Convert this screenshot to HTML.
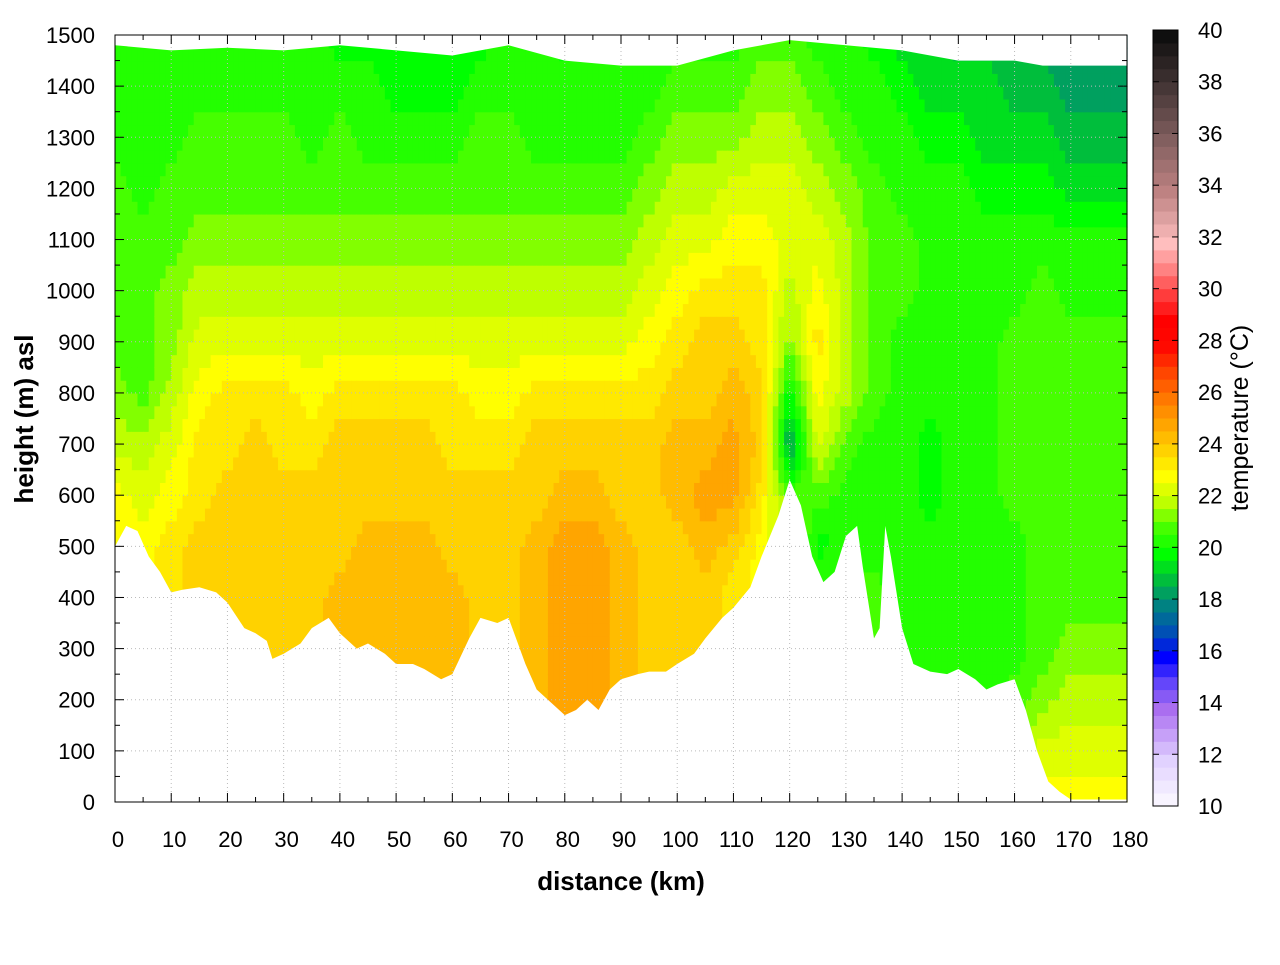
<!DOCTYPE html>
<html><head><meta charset="utf-8"><style>
body{margin:0;background:#fff;font-family:"Liberation Sans",sans-serif}
svg text{font-family:"Liberation Sans",sans-serif}
</style></head><body>
<svg id="chart" width="1280" height="960">
<g id="heat"></g>
<g id="mask"></g>
<g id="grid"></g>
<g id="axes"></g>
<g id="cbar"></g>
<text x="621" y="890" font-size="26" font-weight="bold" text-anchor="middle">distance (km)</text>
<text transform="translate(33,419) rotate(-90)" font-size="26" font-weight="bold" text-anchor="middle">height (m) asl</text>
<text transform="translate(1248,418) rotate(-90)" font-size="25" text-anchor="middle">temperature (°C)</text>
</svg>
<script>
const distCols=[0,5,10,15,20,25,30,35,40,45,50,55,60,65,70,75,80,85,90,95,100,105,110,115,120,125,130,135,140,145,150,155,160,165,170,175,180];
const heightRows=[0,100,200,300,400,500,600,700,800,900,1000,1100,1200,1300,1400,1500];
const tempByColumn=[
[23,23,23,23,23,23,23,22,21.5,21,21,21,21,20.5,20.5,20.5],
[23,23,23,23,23,23,22.5,22,21,21,21,21,20.5,20.5,20.5,20.5],
[23.5,23.5,23.5,23.5,23.5,23.5,23,22.5,22,21.5,21.5,21,21,20.5,20.5,20.5],
[24,24,24,24,24,24,23.5,23.5,23,22.5,22,21.5,21,21,20.5,20.5],
[24,24,24,24,24,24,24,23.5,23.5,22.5,22,21.5,21,21,20.5,20.5],
[24,24,24,24,24,24,24,24,23.5,22.5,22,21.5,21,21,20.5,20.5],
[24,24,24,24,24,24,24,23.5,23.5,22.5,22,21.5,21,21,20.5,20.5],
[24,24,24,24,24,24,24,23.5,23,22.5,22,21.5,21,20.5,20.5,20.5],
[24.5,24.5,24.5,24.5,24.5,24,24,24,23.5,22.5,22,21.5,21,21,20.5,20],
[24.5,24.5,24.5,24.5,24.5,24.5,24,24,23.5,22.5,22,21.5,21,20.5,20.5,20],
[24.5,24.5,24.5,24.5,24.5,24.5,24,24,23.5,22.5,22,21.5,21,20.5,20,20],
[24.5,24.5,24.5,24.5,24.5,24.5,24,24,23.5,22.5,22,21.5,21,20.5,20,20],
[24.5,24.5,24.5,24.5,24.5,24,24,23.5,23.5,22.5,22,21.5,21,20.5,20,20],
[24,24,24,24,24,24,24,23.5,23,22.5,22,21.5,21,21,20.5,20],
[24,24,24,24,24,24,24,23.5,23,22.5,22,21.5,21,21,20.5,20.5],
[24.5,24.5,24.5,24.5,24.5,24.5,24,24,23.5,22.5,22,21.5,21,20.5,20.5,20.5],
[25,25,25,25,25,25,24.5,24,23.5,22.5,22,21.5,21,20.5,20.5,20],
[25,25,25,25,25,25,24.5,24,23.5,22.5,22,21.5,21,20.5,20.5,20],
[24.5,24.5,24.5,24.5,24.5,24.5,24,24,23.5,22.5,22,21.5,21,20.5,20.5,20],
[24,24,24,24,24,24,24,24,23.5,23,22.5,22,21.5,21,20.5,20],
[24,24,24,24,24,24,24.5,24.5,24,23.5,23,22.5,22,21.5,21,20.5],
[24,24,24,24,24,24.5,25,24.5,24,24,23.5,22.5,22,21.5,21,20.5],
[23.5,23.5,23.5,23.5,23.5,24,25,25,24.5,24,23.5,23,22.5,21.5,21,20.5],
[23,23,23,23,23,23,23.5,24,24,23.5,23.5,23,22.5,22,21.5,21],
[22,22,22,22,22,22,21,18.5,20,21.5,22,22.5,22.5,22,21.5,21],
[21,21,21,21,21,20,21,22.5,23,23.5,23,22.5,22,21.5,21,20.5],
[21,21,21,21,21,20.5,20.5,21,22,22,22,22,21.5,21,20.5,20.5],
[21,21,21,21,21,20.5,20.5,20.5,21,21,21,21,21,20.5,20.5,20],
[21,21,20.5,20.5,20.5,20.5,20.5,20.5,20.5,20.5,21,21,20.5,20.5,20,19.5],
[21,20.5,20.5,20.5,20.5,20.5,20,20,20.5,20.5,20.5,20.5,20.5,20,19.5,19.5],
[21,20.5,20.5,20.5,20.5,20.5,20.5,20.5,20.5,20.5,20.5,20.5,20.5,20,19.5,19],
[21.5,21,20.5,20.5,20.5,20.5,20.5,20.5,20.5,20.5,20.5,20.5,20,19.5,19.5,19],
[22,21.5,21,20.5,20.5,20.5,21,21,21,21,20.5,20.5,20,19.5,19,19],
[23,22.5,21.5,21,21,21,21,21,21,21,21,20.5,20,19.5,19,18.5],
[23,22.5,22,21.5,21,21,21,21,21,21,20.5,20.5,19.5,19,18.5,18],
[23,22.5,22,21.5,21,21,21,21,21,21,20.5,20.5,19.5,19,18.5,18],
[23,22.5,22,21.5,21,21,21,21,21,21,20.5,20.5,19.5,19,18.5,18]];
const terrainDist=[0,2,4,6,8,10,12,15,18,20,23,25,27,28,30,33,35,38,40,43,45,48,50,53,55,58,60,63,65,68,70,73,75,78,80,82,84,86,88,90,93,95,98,100,103,105,108,110,113,115,118,120,122,124,126,128,130,132,133,135,136,137,138,140,142,145,148,150,153,155,157,160,162,164,166,168,170,175,180];
const terrainHeight=[500,540,530,480,450,410,415,420,410,390,340,330,315,280,290,310,340,360,330,300,310,290,270,270,260,240,250,320,360,350,360,270,220,190,170,180,200,180,220,240,250,255,255,270,290,320,360,380,420,480,560,630,580,480,430,450,520,540,460,320,340,540,480,340,270,255,250,260,240,220,230,240,180,100,40,20,5,5,5];
const topDist=[0,10,20,30,40,50,60,70,80,90,100,110,120,130,140,150,160,165,167,180];
const topHeight=[1480,1470,1475,1470,1480,1470,1460,1480,1450,1440,1440,1470,1490,1480,1470,1450,1450,1440,1440,1440];
const cbTicks=[10,12,14,16,18,20,22,24,26,28,30,32,34,36,38,40];
const NS="http://www.w3.org/2000/svg";
const X0=115,X1=1127,Y0=802,Y1=35;
const xs=d=>X0+(X1-X0)*d/180, ys=h=>Y0-(Y0-Y1)*h/1500;
const stops=[[10,[255,255,255]],[12,[225,210,255]],[14,[170,110,240]],[15,[100,70,250]],[16,[0,0,255]],[17,[0,80,180]],[18,[0,130,130]],[19,[0,190,60]],[20,[0,255,0]],[21,[70,255,0]],[22,[190,255,0]],[23,[255,255,0]],[24,[255,210,0]],[25,[255,165,0]],[26,[255,120,0]],[27,[255,70,0]],[28,[255,10,0]],[29,[255,0,0]],[30,[255,60,60]],[31,[255,130,130]],[32,[255,190,190]],[33,[220,160,160]],[34,[190,130,130]],[36,[130,95,95]],[38,[70,55,55]],[40,[15,15,15]]];
function col(t){t=Math.round(t*2)/2;t=Math.max(10,Math.min(40,t));for(let i=0;i<stops.length-1;i++){const[a,ca]=stops[i],[b,cb]=stops[i+1];if(t<=b){const f=(t-a)/(b-a);return`rgb(${ca.map((c,k)=>Math.round(c+(cb[k]-c)*f)).join(',')})`}}return'rgb(15,15,15)'}
function el(t,a,p){const e=document.createElementNS(NS,t);for(const k in a)e.setAttribute(k,a[k]);p.appendChild(e);return e}
function sample(d,h){let i=Math.min(Math.floor(d/5),distCols.length-2),j=Math.min(Math.floor(h/100),heightRows.length-2);const fx=(d-distCols[i])/5,fy=(h-heightRows[j])/100;const a=tempByColumn[i][j],b=tempByColumn[i+1][j],c=tempByColumn[i][j+1],e=tempByColumn[i+1][j+1];return a*(1-fx)*(1-fy)+b*fx*(1-fy)+c*(1-fx)*fy+e*fx*fy}
const heat=document.getElementById('heat');
const dstep=1,hstep=25;
for(let d=0;d<180;d+=dstep)for(let h=0;h<1500;h+=hstep){
 const r=el('rect',{x:xs(d).toFixed(2),y:ys(h+hstep).toFixed(2),width:(xs(d+dstep)-xs(d)+0.6).toFixed(2),height:(ys(h)-ys(h+hstep)+0.6).toFixed(2),fill:col(sample(d+dstep/2,h+hstep/2))},heat);
 
 
}
const mask=document.getElementById('mask');
let p=`M${xs(0)},${ys(0)+1} `+terrainDist.map((d,i)=>`L${xs(d)},${ys(terrainHeight[i])}`).join(' ')+` L${xs(180)},${ys(0)+1}Z`;
const g1=el('path',{d:p,fill:'#fff'},mask);


let p2=`M${xs(0)},${ys(1500)-1} `+topDist.map((d,i)=>`L${xs(d)},${ys(topHeight[i])}`).join(' ')+` L${xs(180)},${ys(1500)-1}Z`;
const g2=el('path',{d:p2,fill:'#fff'},mask);


const grid=document.getElementById('grid'),axes=document.getElementById('axes');
for(let d=0;d<=180;d+=5){const x=xs(d);const major=d%10==0;
 el('line',{x1:x,y1:Y0,x2:x,y2:Y0-(major?9:5),stroke:'#000'},axes);el('line',{x1:x,y1:Y1,x2:x,y2:Y1+(major?9:5),stroke:'#000'},axes);
 if(major){if(d>0&&d<180)el('line',{x1:x,y1:Y1,x2:x,y2:Y0,stroke:'#bbb','stroke-dasharray':'1,3'},grid);
 const t=el('text',{x:x+3,y:847,'font-size':22,'text-anchor':'middle'},axes);t.textContent=d;
 }}
for(let h=0;h<=1500;h+=50){const y=ys(h);const major=h%100==0;
 el('line',{x1:X0,y1:y,x2:X0+(major?9:5),y2:y,stroke:'#000'},axes);el('line',{x1:X1,y1:y,x2:X1-(major?9:5),y2:y,stroke:'#000'},axes);
 if(major){if(h>0&&h<1500)el('line',{x1:X0,y1:y,x2:X1,y2:y,stroke:'#bbb','stroke-dasharray':'1,3'},grid);
 const t=el('text',{x:95,y:y+8,'font-size':22,'text-anchor':'end'},axes);t.textContent=h;
 }}
el('rect',{x:X0,y:Y1,width:X1-X0,height:Y0-Y1,fill:'none',stroke:'#000'},axes);
const cb=document.getElementById('cbar');const C0=806,C1=30,cy=t=>C0-(C0-C1)*(t-10)/30;
for(let t=10;t<40;t+=0.5){const r=el('rect',{x:1153,y:cy(t+0.5),width:25,height:cy(t)-cy(t+0.5)+0.5,fill:col(t+0.25)},cb);
 }
el('rect',{x:1153,y:C1,width:25,height:C0-C1,fill:'none',stroke:'#000'},cb);
cbTicks.forEach(t=>{const y=cy(t);el('line',{x1:1153,y1:y,x2:1159,y2:y,stroke:'#000'},cb);el('line',{x1:1178,y1:y,x2:1172,y2:y,stroke:'#000'},cb);
 const tx=el('text',{x:1198,y:y+8,'font-size':22},cb);tx.textContent=t;
 });
</script>
</body></html>
